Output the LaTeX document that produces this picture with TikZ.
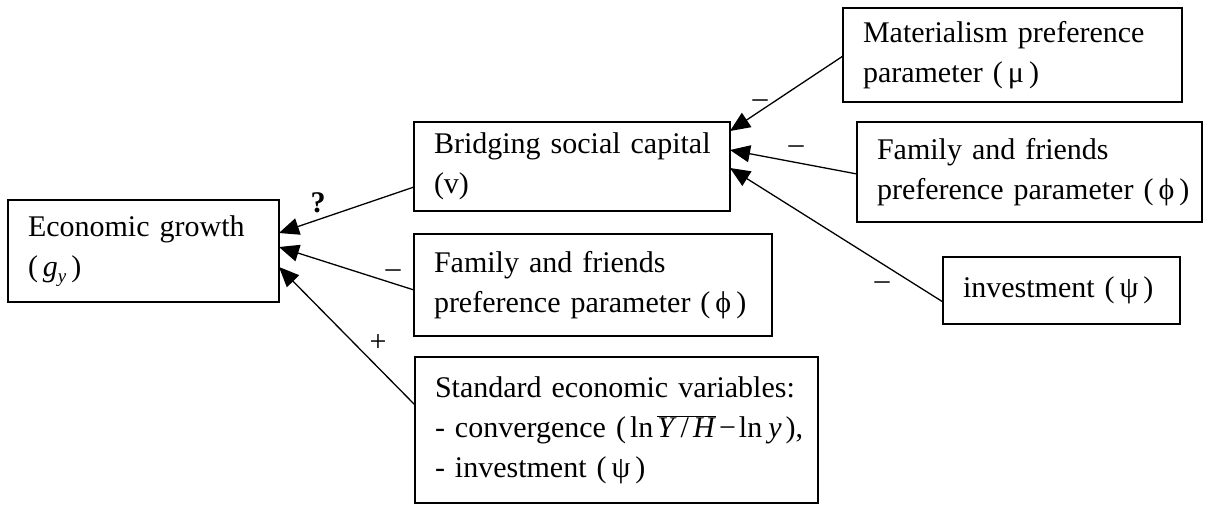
\documentclass[tikz,border=0pt]{standalone}
\usepackage{fontspec}
\setmainfont{Liberation Serif}
\usetikzlibrary{arrows.meta,calc}
\newcommand{\bigtxt}{\fontsize{30}{40}\selectfont}
\begin{document}
\begin{tikzpicture}[x=1pt,y=-1pt,
  box/.style={draw,line width=1.3pt,rectangle,anchor=north west,align=left,
    inner xsep=20pt,inner ysep=0pt,outer sep=0pt,font=\bigtxt},
  conn/.style={line width=1.3pt,-{Triangle[length=20pt,width=17pt]}},
  sign/.style={font=\bigtxt,inner sep=0pt}]
\useasboundingbox (0,0) rectangle (1228,506);
% boxes
\node[box,text width=231pt,minimum height=102pt] (econ) at (8,200)
  {\mbox{Economic growth}\\\mbox{(\,\textit{g}\raisebox{-6pt}{\fontsize{19}{19}\selectfont\textit{y}}\,)}};
\node[box,text width=276pt,minimum height=89pt] (bridge) at (414,122)
  {\mbox{Bridging social capital}\\\mbox{(v)}};
\node[box,text width=318pt,minimum height=102pt] (fam1) at (414,234)
  {\mbox{Family and friends}\\\mbox{preference parameter (\,ϕ\,)}};
\node[box,text width=363pt,minimum height=146pt] (std) at (415,357)
  {\mbox{Standard economic variables:}\\\mbox{- convergence (\kern4pt ln\kern4pt$\overline{\hbox{\textit{Y}\kern4pt/\kern4pt\textit{H}}}$\kern3pt−\kern3pt ln\kern6pt\textit{y}\kern4pt),}\\\mbox{- investment (\,ψ\,)}};
\node[box,text width=299pt,minimum height=94pt] (mat) at (843,8)
  {\mbox{Materialism preference}\\\mbox{parameter (\,μ\,)}};
\node[box,text width=305pt,minimum height=100pt] (fam2) at (857,122)
  {\mbox{Family and friends}\\\mbox{preference parameter (\,ϕ\,)}};
\node[box,text width=197pt,minimum height=67pt] (inv) at (943,257)
  {\mbox{investment (\,ψ\,)}};
% connectors
\draw[conn] ($(mat.north west)+(0,48)$) -- ($(bridge.north east)+(0,9)$);
\draw[conn] ($(fam2.north west)+(0,52)$) -- ($(bridge.north east)+(0,28)$);
\draw[conn] ($(inv.north west)+(0,45)$) -- ($(bridge.north east)+(0,46)$);
\draw[conn] ($(bridge.north west)+(0,65)$) -- ($(econ.north east)+(0,33)$);
\draw[conn] ($(fam1.north west)+(0,56)$) -- ($(econ.north east)+(0,47)$);
\draw[conn] ($(std.north west)+(0,48)$) -- ($(econ.north east)+(0,67)$);
% signs
\node[sign,font=\bigtxt\bfseries] (q) at (318,203) {?};
\node[sign] (m1) at (393,274) {–};
\node[sign] (p1) at (378,343) {+};
\node[sign] (m2) at (760,104) {–};
\node[sign] (m3) at (796,150) {–};
\node[sign] (m4) at (882,286) {–};
\end{tikzpicture}
\end{document}
